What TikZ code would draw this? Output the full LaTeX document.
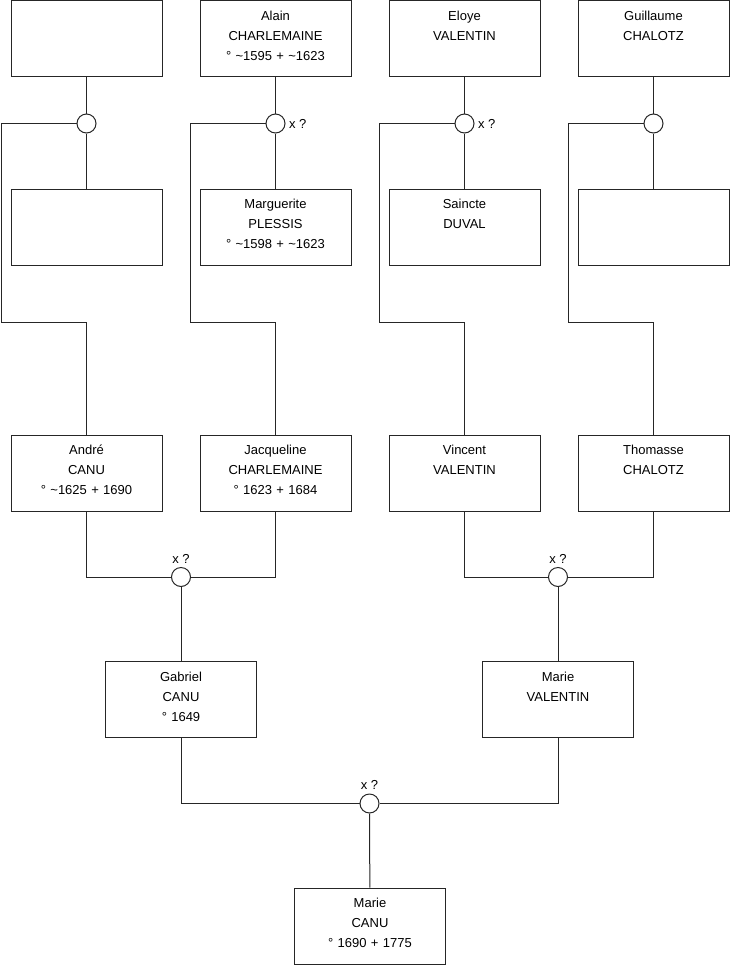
\documentclass[tikz,border=0pt]{standalone}
\usepackage{fontspec}
\setmainfont{Liberation Sans}
\usepackage{tikz}
\usetikzlibrary{positioning,calc}
\tikzset{
  person/.style={draw=black!85, line width=1pt, minimum width=151pt, minimum height=76pt,
                 text width=151pt, align=center, inner sep=0pt,
                 font=\fontsize{13}{20}\selectfont},
  union/.style={draw=black!85, line width=1pt, circle, fill=white, minimum size=19pt,
                inner sep=0pt, label distance=1pt},
  link/.style={draw=black!85, line width=1pt},
  xq/.style={font=\fontsize{13}{20}\selectfont},
}
\newcommand{\env}{\textasciitilde}
\newcommand{\who}[3]{#1\\#2\\#3\strut}

\begin{document}
\begin{tikzpicture}[x=1pt, y=-1pt]
  \useasboundingbox (0,0) rectangle (740,975);
  % top row: fathers
  \node[person] (f1) at (86.5,38.5) {};
  \node[person] (f2) at (275.5,38.5) {\who{Alain}{CHARLEMAINE}{° \env1595 + \env1623}};
  \node[person] (f3) at (464.5,38.5) {\who{Eloye}{VALENTIN}{}};
  \node[person] (f4) at (653.5,38.5) {\who{Guillaume}{CHALOTZ}{}};
  % second row: mothers
  \node[person] (w1) at (86.5,227) {};
  \node[person] (w2) at (275.5,227) {\who{Marguerite}{PLESSIS}{° \env1598 + \env1623}};
  \node[person] (w3) at (464.5,227) {\who{Saincte}{DUVAL}{}};
  \node[person] (w4) at (653.5,227) {};
  % unions
  \node[union] (u1) at (86.5,123.5) {};
  \node[union, label={[xq]right:x ?}] (u2) at (275.5,123.5) {};
  \node[union, label={[xq]right:x ?}] (u3) at (464.5,123.5) {};
  \node[union] (u4) at (653.5,123.5) {};
  % children
  \node[person] (andre) at (86.5,473) {\who{André}{CANU}{° \env1625 + 1690}};
  \node[person] (jacq) at (275.5,473) {\who{Jacqueline}{CHARLEMAINE}{° 1623 + 1684}};
  \node[person] (vinc) at (464.5,473) {\who{Vincent}{VALENTIN}{}};
  \node[person] (thom) at (653.5,473) {\who{Thomasse}{CHALOTZ}{}};
  \node[union, label={[xq]above:x ?}] (u5) at (181,577) {};
  \node[union, label={[xq]above:x ?}] (u6) at (558,577) {};
  \node[person] (gab) at (181,699.5) {\who{Gabriel}{CANU}{° 1649}};
  \node[person] (mval) at (558,699.5) {\who{Marie}{VALENTIN}{}};
  \node[union, label={[xq]above:x ?}] (u7) at (369.5,803.5) {};
  \node[person] (mcanu) at (370,926) {\who{Marie}{CANU}{° 1690 + 1775}};
  % bends of the long lines
  \coordinate (k1) at (1,322);
  \coordinate (k2) at (190.5,322);
  \coordinate (k3) at (379.5,322);
  \coordinate (k4) at (568.5,322);

  \foreach \i in {1,...,4}{
    \draw[link] (f\i) -- (u\i);
    \draw[link] (u\i) -- (w\i);
  }
  \draw[link] (u1.west) -| (k1) -| (andre.north);
  \draw[link] (u2.west) -| (k2) -| (jacq.north);
  \draw[link] (u3.west) -| (k3) -| (vinc.north);
  \draw[link] (u4.west) -| (k4) -| (thom.north);
  \draw[link] (andre.south) |- (u5.west);
  \draw[link] (jacq.south) |- (u5.east);
  \draw[link] (vinc.south) |- (u6.west);
  \draw[link] (thom.south) |- (u6.east);
  \draw[link] (u5) -- (gab);
  \draw[link] (u6) -- (mval);
  \draw[link] (gab.south) |- (u7.west);
  \draw[link] (mval.south) |- (u7.east);
  \draw[link] (u7) -- (mcanu);
\end{tikzpicture}
\end{document}
